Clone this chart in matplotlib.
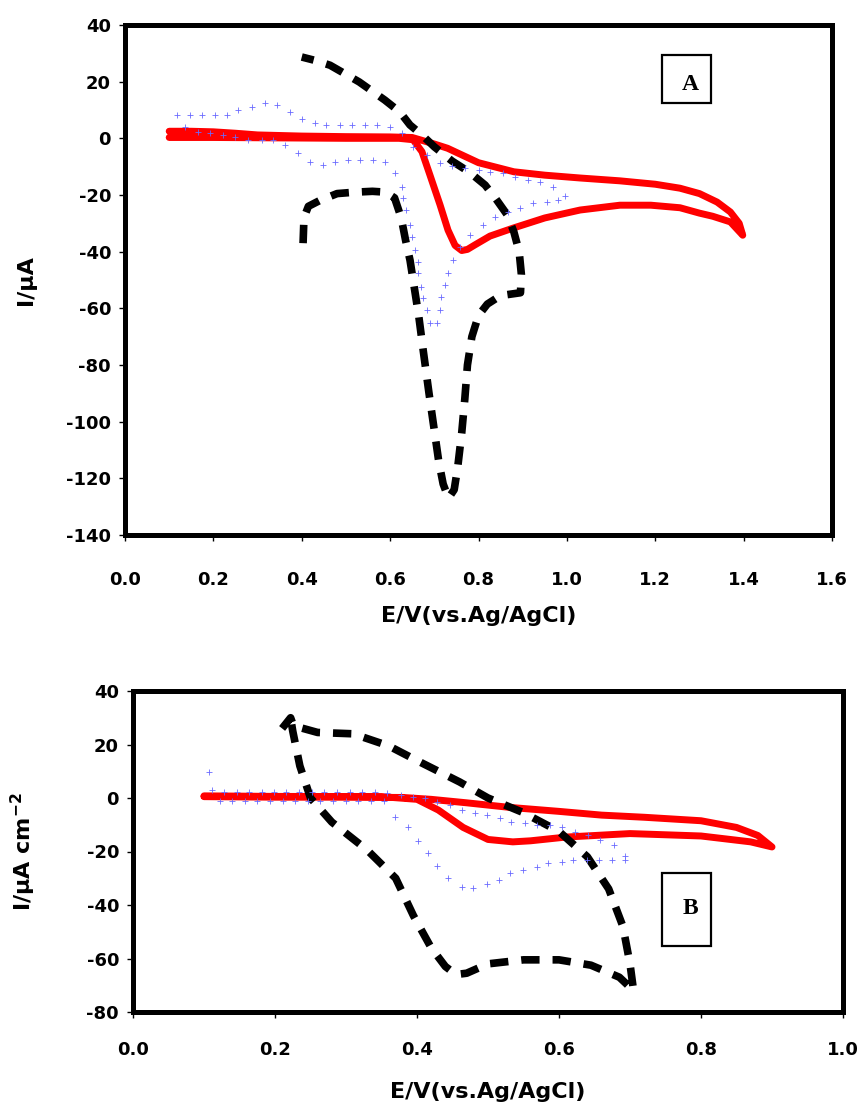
import numpy as np
import matplotlib
matplotlib.use("Agg")
from matplotlib import pyplot as plt
from matplotlib.patches import Rectangle

# ---- panel A data (E in V, I in uA) ----
red_a_e = [0.10, 0.15, 0.20, 0.25, 0.30, 0.40, 0.50, 0.60, 0.65, 0.70, 0.73, 0.80, 0.88, 0.95, 1.03, 1.12, 1.20, 1.256, 1.30, 1.34, 1.37, 1.39, 1.398,
           1.37, 1.33, 1.30, 1.256, 1.19, 1.12, 1.03, 0.95, 0.878, 0.826, 0.792, 0.775, 0.762, 0.747, 0.731, 0.713, 0.69, 0.672, 0.652, 0.62, 0.50, 0.40, 0.30, 0.20, 0.10]
red_a_i = [2.5, 2.5, 2.3, 1.8, 1.2, 0.8, 0.6, 0.5, 0.3, -2.0, -3.5, -8.6, -11.8, -13.0, -14.0, -15.0, -16.2, -17.6, -19.5, -22.5, -26.0, -30.0, -34.2,
           -29.5, -27.5, -26.4, -24.5, -23.6, -23.6, -25.3, -28.1, -31.7, -34.5, -37.6, -39.2, -39.6, -37.8, -32.4, -23.5, -12.9, -4.7, -0.5, 0.0, 0.0, 0.1, 0.2, 0.3, 0.3]

black_a_e = [0.403, 0.405, 0.415, 0.44, 0.48, 0.52, 0.56, 0.59, 0.61, 0.625, 0.635, 0.645, 0.655, 0.665, 0.675, 0.688, 0.699, 0.71, 0.72, 0.732,
             0.745, 0.753, 0.762, 0.769, 0.775, 0.785, 0.80, 0.82, 0.85, 0.895, 0.897, 0.892, 0.88, 0.865, 0.84, 0.815, 0.78, 0.74, 0.70, 0.672,
             0.645, 0.622, 0.588, 0.53, 0.464, 0.43, 0.40]
black_a_i = [-37, -28, -24, -22, -19.5, -19, -18.7, -19, -21, -28, -36, -43, -53, -63, -75, -90, -102, -114, -122, -127,
             -124, -116, -104, -92, -80, -70, -62.5, -58.5, -55.5, -54.5, -48, -40, -33, -27, -21.5, -16.5, -12, -8, -3, 1.2,
             4.7, 9.3, 13.5, 19.9, 25.8, 27.5, 28.7]

blue_a_e = [0.117, 0.147, 0.175, 0.204, 0.231, 0.256, 0.287, 0.317, 0.343, 0.373, 0.40, 0.43, 0.456, 0.486, 0.514, 0.543, 0.571, 0.60, 0.628,
            0.652, 0.683, 0.713, 0.741, 0.769, 0.80, 0.826, 0.856, 0.882, 0.912, 0.939, 0.969, 0.995,
            0.98, 0.954, 0.924, 0.894, 0.866, 0.837, 0.811, 0.781, 0.758, 0.743, 0.731, 0.724, 0.716, 0.713, 0.705,
            0.69, 0.683, 0.675, 0.671, 0.664, 0.664, 0.656, 0.649, 0.645, 0.637, 0.63, 0.626, 0.611,
            0.588, 0.562, 0.532, 0.505, 0.475, 0.449, 0.419, 0.392, 0.362, 0.336, 0.309, 0.279, 0.249, 0.222, 0.192, 0.166, 0.136]
blue_a_i = [8.2, 8.2, 8.2, 8.2, 8.2, 10.0, 11.2, 12.4, 11.8, 9.4, 6.7, 5.3, 4.7, 4.7, 4.7, 4.7, 4.7, 4.1, 1.8,
            -3.0, -6.0, -8.8, -9.8, -10.6, -11.2, -11.8, -12.4, -13.6, -14.7, -15.3, -17.1, -20.4,
            -21.8, -22.4, -22.9, -24.7, -26.0, -27.7, -30.6, -34.1, -38.3, -43.0, -47.4, -51.8, -55.9, -60.6, -65.3,
            -65.3, -60.6, -56.5, -52.4, -47.7, -43.6, -39.4, -34.7, -30.6, -25.3, -21.2, -17.1, -12.4,
            -8.2, -7.6, -7.6, -7.6, -8.2, -9.4, -8.2, -5.3, -2.4, -0.6, -0.6, -0.6, 0.6, 1.2, 1.8, 2.4, 4.1]

# ---- panel B data (E in V, I in uA cm-2) ----
red_b_e = [0.10, 0.20, 0.30, 0.38, 0.42, 0.47, 0.53, 0.60, 0.66, 0.72, 0.80, 0.85, 0.88, 0.90,
           0.87, 0.80, 0.70, 0.61, 0.56, 0.535, 0.50, 0.465, 0.43, 0.40, 0.35, 0.20, 0.10]
red_b_i = [0.5, 0.3, 0.3, 0.2, -0.5, -1.8, -3.5, -5.0, -6.4, -7.2, -8.5, -11.0, -14.0, -18.3,
           -16.4, -14.2, -13.3, -14.6, -16.0, -16.4, -15.5, -11.0, -4.5, -0.5, 0.5, 0.6, 0.8]

black_b_e = [0.21, 0.222, 0.226, 0.26, 0.31, 0.36, 0.40, 0.46, 0.50, 0.55, 0.60, 0.64, 0.67, 0.69, 0.70, 0.705,
             0.685, 0.645, 0.60, 0.55, 0.50, 0.47, 0.455, 0.44, 0.42, 0.395, 0.37, 0.33, 0.28, 0.25, 0.235, 0.225, 0.222]
black_b_i = [26, 30, 27, 24.5, 24, 19.5, 14, 6, 0, -5.5, -12.5, -22, -34, -48, -62, -72,
             -67, -62.5, -60.5, -60.5, -62, -65.5, -66, -63, -56, -44, -30, -19.5, -9, 0, 12, 25, 30]

blue_b_e = [0.107, 0.111, 0.128, 0.146, 0.163, 0.181, 0.199, 0.216, 0.234, 0.252, 0.269, 0.287, 0.305, 0.322, 0.341, 0.358, 0.377,
            0.395, 0.411, 0.428, 0.446, 0.463, 0.482, 0.498, 0.517, 0.533, 0.552, 0.569, 0.587, 0.604, 0.623, 0.641, 0.658, 0.677, 0.693,
            0.693, 0.674, 0.656, 0.639, 0.62, 0.604, 0.585, 0.569, 0.55, 0.531, 0.515, 0.498, 0.479, 0.463, 0.444, 0.428, 0.416, 0.402, 0.388, 0.369,
            0.353, 0.335, 0.317, 0.30, 0.282, 0.263, 0.247, 0.228, 0.211, 0.193, 0.175, 0.158, 0.14, 0.122]
blue_b_i = [9.7, 3.0, 2.1, 2.1, 2.1, 2.1, 2.1, 2.1, 2.1, 2.1, 2.1, 2.1, 2.1, 2.1, 2.1, 1.8, 1.0,
            0.5, -0.1, -1.4, -2.6, -4.5, -5.7, -6.4, -7.6, -8.9, -9.5, -10.1, -10.1, -10.7, -12.6, -13.8, -15.7, -17.6, -21.7,
            -23.2, -23.2, -23.2, -23.2, -23.2, -23.8, -24.4, -25.7, -26.9, -28.2, -30.7, -32.1, -33.8, -33.1, -30.0, -25.4, -20.7, -16.1, -10.7, -7.0,
            -1.0, -1.0, -1.0, -1.0, -1.0, -1.0, -1.0, -1.0, -1.0, -1.0, -1.0, -1.0, -1.0, -1.0]

W, H = 862, 1110


def fx(px):
    return px / W


def fy(py):
    return 1 - py / H


plt.rcParams['font.family'] = ['DejaVu Sans']
plt.rcParams['font.weight'] = 'bold'
plt.rcParams['axes.unicode_minus'] = False

fig = plt.figure(figsize=(W / 100, H / 100), dpi=100)
ax_a = fig.add_axes([fx(125), fy(535), (832 - 125) / W, (535 - 25) / H])
ax_b = fig.add_axes([fx(133), fy(1012), (843 - 133) / W, (1012 - 691) / H])


def draw(ax, re, ri, be, bi, ue, ui):
    ax.plot(re, ri, color='#ff0000', lw=5, solid_capstyle='round', solid_joinstyle='round', zorder=2)
    ax.plot(be, bi, color='black', lw=5.5, dashes=(2.4, 1.7), dash_capstyle='butt', zorder=3)
    ax.plot(ue, ui, ls='none', marker='+', ms=5, mew=0.6, color='#6a6aff', zorder=4)
    for s in ax.spines.values():
        s.set_linewidth(3.6)
    ax.tick_params(direction='out', length=4, width=1, labelsize=13)


draw(ax_a, red_a_e, red_a_i, black_a_e, black_a_i, blue_a_e, blue_a_i)
draw(ax_b, red_b_e, red_b_i, black_b_e, black_b_i, blue_b_e, blue_b_i)

ax_a.set_xlim(0, 1.6)
ax_a.set_ylim(-140, 40)
ax_a.set_xticks(np.arange(0, 1.61, 0.2))
ax_a.set_yticks(np.arange(-140, 41, 20))
ax_a.xaxis.set_major_formatter(matplotlib.ticker.FormatStrFormatter('%.1f'))
ax_a.tick_params(axis='x', pad=22)
ax_a.tick_params(axis='y', pad=6)
ax_a.set_xlabel('E/V(vs.Ag/AgCl)', fontsize=16, fontweight='bold')
ax_a.set_ylabel('I/\u03bcA', fontsize=16, fontweight='bold')
ax_a.xaxis.set_label_coords(0.5, (535 - 606) / 510)
ax_a.yaxis.set_label_coords((36 - 125) / 707, 0.5)

ax_b.set_xlim(0, 1.0)
ax_b.set_ylim(-80, 40)
ax_b.set_xticks(np.arange(0, 1.01, 0.2))
ax_b.set_yticks(np.arange(-80, 41, 20))
ax_b.xaxis.set_major_formatter(matplotlib.ticker.FormatStrFormatter('%.1f'))
ax_b.tick_params(axis='x', pad=17)
ax_b.tick_params(axis='y', pad=6)
ax_b.set_xlabel('E/V(vs.Ag/AgCl)', fontsize=16, fontweight='bold')
ax_b.set_ylabel('I/\u03bcA cm$^{\\mathbf{-2}}$', fontsize=16, fontweight='bold')
ax_b.xaxis.set_label_coords(0.5, (1012 - 1082) / 321)
ax_b.yaxis.set_label_coords((38 - 133) / 710, 0.5)

# panel letters in boxes
for (x0, y0, x1, y1, tx, ty, lab) in [(662, 55, 711, 103, 690, 84, 'A'), (662, 873, 711, 946, 690, 908, 'B')]:
    fig.add_artist(Rectangle((fx(x0), fy(y1)), (x1 - x0) / W, (y1 - y0) / H, transform=fig.transFigure,
                             fill=False, lw=1.6, ec='black'))
    fig.text(fx(tx), fy(ty), lab, fontsize=17, fontweight='bold', family='Liberation Serif', ha='center', va='center')

fig.savefig('out.png', dpi=100)
